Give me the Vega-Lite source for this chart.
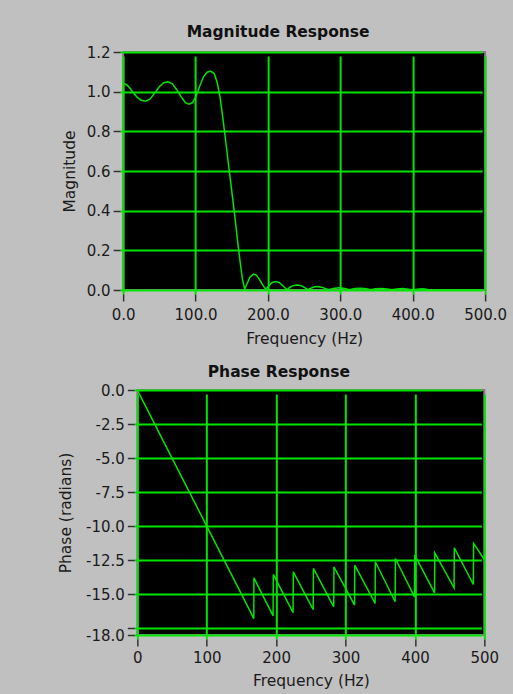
{
  "$schema": "https://vega.github.io/schema/vega-lite/v6.json",
  "background": "#c0c0c0",
  "padding": {"left": 57, "top": 23, "right": 0, "bottom": 4},
  "spacing": 15,
  "center": true,
  "datasets": {
    "mag": [
      {"f": 0, "m": 1.042}, {"f": 5, "m": 1.035}, {"f": 10, "m": 1.015}, {"f": 15, "m": 0.99},
      {"f": 20, "m": 0.97}, {"f": 25, "m": 0.957}, {"f": 31, "m": 0.952}, {"f": 37, "m": 0.962},
      {"f": 43, "m": 0.99}, {"f": 50, "m": 1.025}, {"f": 56, "m": 1.045}, {"f": 62, "m": 1.05},
      {"f": 68, "m": 1.04}, {"f": 74, "m": 1.01}, {"f": 80, "m": 0.975}, {"f": 86, "m": 0.945},
      {"f": 91, "m": 0.937}, {"f": 96, "m": 0.945}, {"f": 101, "m": 0.98}, {"f": 106, "m": 1.03},
      {"f": 111, "m": 1.075}, {"f": 116, "m": 1.098}, {"f": 121, "m": 1.104}, {"f": 126, "m": 1.09},
      {"f": 130, "m": 1.045}, {"f": 134, "m": 0.97}, {"f": 138, "m": 0.86}, {"f": 142, "m": 0.74},
      {"f": 146, "m": 0.62}, {"f": 150, "m": 0.5}, {"f": 154, "m": 0.38}, {"f": 158, "m": 0.25},
      {"f": 162, "m": 0.13}, {"f": 165, "m": 0.05}, {"f": 168, "m": 0.005}, {"f": 171, "m": 0.03},
      {"f": 175, "m": 0.065}, {"f": 180, "m": 0.08}, {"f": 184, "m": 0.075}, {"f": 188, "m": 0.055},
      {"f": 193, "m": 0.025}, {"f": 197, "m": 0.003}, {"f": 201, "m": 0.02}, {"f": 206, "m": 0.038},
      {"f": 211, "m": 0.043}, {"f": 216, "m": 0.037}, {"f": 221, "m": 0.02}, {"f": 226, "m": 0.002},
      {"f": 231, "m": 0.015}, {"f": 236, "m": 0.023}, {"f": 241, "m": 0.025}, {"f": 246, "m": 0.022},
      {"f": 251, "m": 0.012}, {"f": 255, "m": 0.002}, {"f": 260, "m": 0.01}, {"f": 265, "m": 0.016},
      {"f": 270, "m": 0.017}, {"f": 275, "m": 0.013}, {"f": 280, "m": 0.006}, {"f": 284, "m": 0.001},
      {"f": 290, "m": 0.008}, {"f": 298, "m": 0.011}, {"f": 306, "m": 0.007}, {"f": 313, "m": 0.001},
      {"f": 320, "m": 0.007}, {"f": 328, "m": 0.009}, {"f": 336, "m": 0.006}, {"f": 342, "m": 0.001},
      {"f": 349, "m": 0.006}, {"f": 357, "m": 0.008}, {"f": 365, "m": 0.005}, {"f": 371, "m": 0.001},
      {"f": 378, "m": 0.005}, {"f": 386, "m": 0.007}, {"f": 394, "m": 0.004}, {"f": 400, "m": 0.001},
      {"f": 406, "m": 0.004}, {"f": 413, "m": 0.006}, {"f": 419, "m": 0.004}, {"f": 422, "m": 0.0},
      {"f": 500, "m": 0.0}
    ],
    "phase": [
      {"f": 0, "p": 0}, {"f": 50, "p": -5.0}, {"f": 100, "p": -10.0}, {"f": 150, "p": -15.0},
      {"f": 167.8, "p": -16.8}, {"f": 168.0, "p": -13.8},
      {"f": 195.6, "p": -16.6}, {"f": 195.9, "p": -13.55},
      {"f": 224.4, "p": -16.35}, {"f": 224.7, "p": -13.36},
      {"f": 253.4, "p": -16.13}, {"f": 253.7, "p": -13.11},
      {"f": 283.0, "p": -15.93}, {"f": 283.3, "p": -12.99},
      {"f": 313.0, "p": -15.8}, {"f": 313.3, "p": -12.87},
      {"f": 342.6, "p": -15.68}, {"f": 342.9, "p": -12.62},
      {"f": 371.5, "p": -15.56}, {"f": 371.8, "p": -12.38},
      {"f": 399.4, "p": -15.2}, {"f": 399.7, "p": -12.13},
      {"f": 428.3, "p": -14.9}, {"f": 428.6, "p": -11.96},
      {"f": 456.4, "p": -14.53}, {"f": 456.7, "p": -11.6},
      {"f": 484.2, "p": -14.29}, {"f": 484.5, "p": -11.27},
      {"f": 500, "p": -12.45}
    ]
  },
  "config": {
    "font": "DejaVu Sans",
    "view": {"fill": "black", "stroke": "#7f7f7f", "strokeWidth": 2},
    "axis": {
      "labelFont": "DejaVu Sans", "labelFontSize": 15, "labelColor": "#1a1a1a",
      "titleFont": "DejaVu Sans", "titleFontSize": 15.5, "titleFontWeight": "normal", "titleColor": "#1a1a1a",
      "gridColor": "#00e400", "gridWidth": 2, "gridOpacity": 1,
      "domain": false, "tickColor": "#333333", "tickSize": 7, "tickWidth": 1.5,
      "labelFlush": false, "labelOverlap": false
    },
    "axisY": {"titlePadding": 9, "offset": 3, "labelPadding": 3},
    "axisX": {"offset": 4},
    "title": {"font": "DejaVu Sans", "fontSize": 15.5, "fontWeight": "bold", "color": "#111111", "anchor": "middle"}
  },
  "vconcat": [
    {
      "title": {"text": "Magnitude Response", "offset": 5, "dx": -26},
      "width": 362,
      "height": 238,
      "data": {"name": "mag"},
      "resolve": {"axis": {"y": "independent"}},
      "encoding": {
        "x": {"field": "f", "type": "quantitative", "scale": {"domain": [0, 500], "nice": false},
              "axis": {"title": "Frequency (Hz)", "values": [0, 100, 200, 300, 400, 500], "format": ".1f", "labelPadding": 6, "titlePadding": 9}}
      },
      "layer": [
        {
          "mark": {"type": "line", "color": "#00e400", "strokeWidth": 1.5, "clip": true},
          "encoding": {
            "y": {"field": "m", "type": "quantitative", "scale": {"domain": [0, 1.2], "nice": false, "zero": false},
                  "axis": {"orient": "left", "title": "Magnitude", "values": [0, 0.2, 0.4, 0.6, 0.8, 1.0, 1.2], "format": ".1f"}}
          }
        },
        {
          "mark": {"type": "line", "strokeOpacity": 0, "clip": true},
          "encoding": {
            "y": {"field": "m", "type": "quantitative",
                  "axis": {"orient": "right", "title": null, "grid": false, "labels": false, "values": [0],
                           "tickSize": 27, "tickColor": "transparent", "offset": 0}}
          }
        }
      ]
    },
    {
      "title": {"text": "Phase Response", "offset": 3, "dx": -32},
      "width": 347,
      "height": 245,
      "data": {"name": "phase"},
      "mark": {"type": "line", "color": "#00e400", "strokeWidth": 1.5, "clip": true},
      "encoding": {
        "x": {"field": "f", "type": "quantitative", "scale": {"domain": [0, 500], "nice": false},
              "axis": {"title": "Frequency (Hz)", "values": [0, 100, 200, 300, 400, 500], "format": "d", "labelPadding": 4, "titlePadding": 8}},
        "y": {"field": "p", "type": "quantitative", "scale": {"domain": [-18, 0], "nice": false, "zero": false},
              "axis": {"title": "Phase (radians)", "titlePadding": 12, "values": [0, -2.5, -5, -7.5, -10, -12.5, -15, -17.5, -18],
                       "labelExpr": "datum.value == -17.5 ? '' : replace(format(datum.value, '.1f'), '\u2212', '-')"}}
      }
    }
  ]
}
